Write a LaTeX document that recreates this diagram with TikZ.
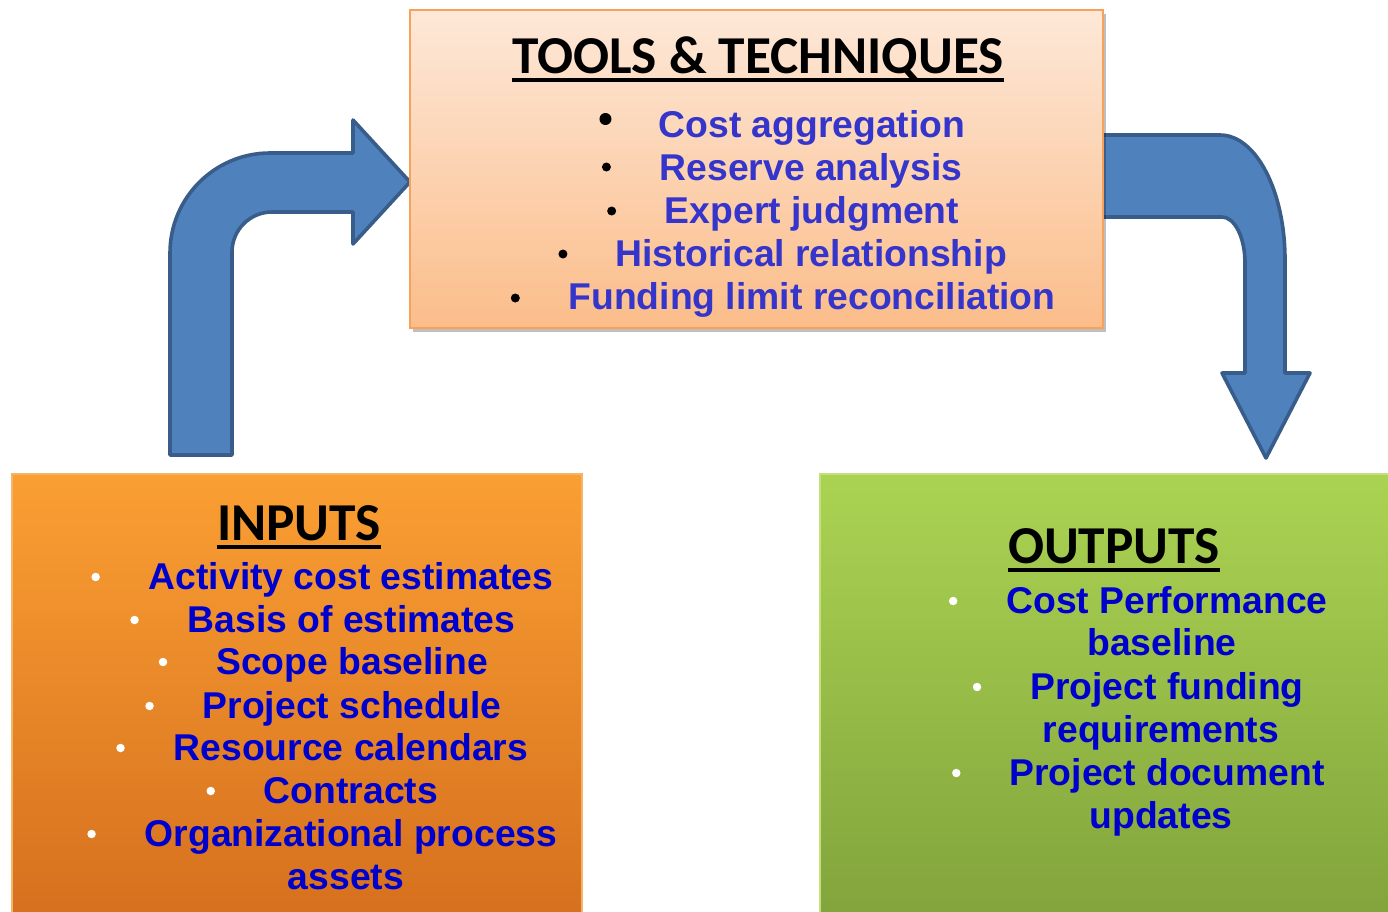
\documentclass[tikz,border=0pt]{standalone}
\usepackage{fontspec}
\setmainfont{Liberation Sans}
\newfontfamily\titlefont{Carlito}
\usetikzlibrary{shadows,calc}
\definecolor{arrowfill}{HTML}{4F81BD}
\definecolor{arrowline}{HTML}{385D8A}
\definecolor{ttblue}{HTML}{3535CC}
\definecolor{ioblue}{HTML}{0000CC}
\definecolor{tttop}{HTML}{FDE8D8}
\definecolor{ttbot}{HTML}{FBBD8A}
\definecolor{ttborder}{HTML}{F8A15A}
\definecolor{intop}{HTML}{FA9F33}
\definecolor{inbot}{HTML}{D6701E}
\definecolor{inborder}{HTML}{F3B56A}
\definecolor{outtop}{HTML}{ABD352}
\definecolor{outbot}{HTML}{82A43C}
\definecolor{outborder}{HTML}{C2E07E}
\tikzset{
  bluearrow/.style={fill=arrowfill, draw=arrowline, line width=3.6pt, line join=round},
  ttbox/.style={draw=ttborder, line width=2pt, top color=tttop, bottom color=ttbot,
    drop shadow={shadow xshift=3pt, shadow yshift=-4pt, opacity=0.25, fill=black}},
  inbox/.style={draw=inborder, line width=2.5pt, top color=intop, bottom color=inbot},
  outbox/.style={draw=outborder, line width=2.5pt, top color=outtop, bottom color=outbot},
  boxtitle/.style={font=\titlefont\bfseries\fontsize{53.3}{60}\selectfont, anchor=base, inner sep=0pt, text=black},
  ttitem/.style={font=\bfseries\fontsize{37.3}{44}\selectfont, text=ttblue, anchor=base, inner sep=0pt},
  ioitem/.style={font=\bfseries\fontsize{37.3}{44}\selectfont, text=ioblue, anchor=base, inner sep=0pt},
  blackbul/.style={circle, fill=black, inner sep=0pt, minimum size=9pt},
  whitebul/.style={circle, fill=white, inner sep=0pt, minimum size=8.5pt},
  uline/.style={line width=4pt, black}
}
\begin{document}
\begin{tikzpicture}[x=1pt,y=1pt]
\useasboundingbox (0,0) rectangle (1388,-911);

% arrows (drawn first so the boxes overlap them)
\draw[bluearrow] (170,-455) -- (170,-253)
  arc[start angle=180, end angle=90, radius=100] -- (353,-153)
  -- (353,-120) -- (410,-182) -- (353,-244) -- (353,-212) -- (272,-212)
  arc[start angle=90, end angle=180, radius=40] -- (232,-455) -- cycle;
\draw[bluearrow] (1100,-135) -- (1220,-135)
  arc[start angle=90, end angle=0, x radius=65, y radius=125] -- (1285,-373)
  -- (1310,-373) -- (1266,-458) -- (1222,-373) -- (1245,-373) -- (1245,-263)
  arc[start angle=0, end angle=90, x radius=23, y radius=46] -- (1100,-217) -- cycle;

% boxes
\node[ttbox, minimum width=693pt, minimum height=318pt, inner sep=0pt] (toolsbox) at (756.5,-169) {};
\node[inbox, minimum width=570pt, minimum height=441pt, inner sep=0pt] (inputsbox) at (297,-694.5) {};
\node[outbox, minimum width=572pt, minimum height=441pt, inner sep=0pt] (outputsbox) at (1106,-694.5) {};

% tools & techniques
\node[boxtitle] (tttitle) at (758,-73) {TOOLS \& TECHNIQUES};
\draw[uline] ([yshift=-7pt]tttitle.base west) -- ([yshift=-7pt]tttitle.base east);
\node[ttitem] (c1) at (812,-137) {Cost aggregation};
\node[ttitem] (c2) at (811,-180) {Reserve analysis};
\node[ttitem] (c3) at (812,-223) {Expert judgment};
\node[ttitem] (c4) at (811,-266) {Historical relationship};
\node[ttitem] (c5) at (812,-309) {Funding limit reconciliation};
\node[blackbul, minimum size=12pt] (cb1) at ([xshift=-53pt,yshift=18pt]c1.base west) {};
\node[blackbul] (cb2) at ([xshift=-53pt,yshift=13pt]c2.base west) {};
\node[blackbul] (cb3) at ([xshift=-53pt,yshift=12pt]c3.base west) {};
\node[blackbul] (cb4) at ([xshift=-52pt,yshift=12pt]c4.base west) {};
\node[blackbul] (cb5) at ([xshift=-53pt,yshift=11pt]c5.base west) {};

% inputs
\node[boxtitle] (intitle) at (299,-540) {INPUTS};
\draw[uline] ([yshift=-6.5pt]intitle.base west) -- ([yshift=-6.5pt]intitle.base east);
\node[ioitem] (i1) at (351,-589) {Activity cost estimates};
\node[ioitem] (i2) at (351.5,-632) {Basis of estimates};
\node[ioitem] (i3) at (352,-674) {Scope baseline};
\node[ioitem] (i4) at (352,-718) {Project schedule};
\node[ioitem] (i5) at (351,-760) {Resource calendars};
\node[ioitem] (i6) at (351,-803) {Contracts};
\node[ioitem] (i7) at (351,-846) {Organizational process};
\node[ioitem] (i8) at (346,-889) {assets};
\foreach \n in {1,...,7}{
  \node[whitebul] (ib\n) at ([xshift=-53pt,yshift=12pt]i\n.base west) {};
}

% outputs
\node[boxtitle] (outtitle) at (1114,-563) {OUTPUTS};
\draw[uline] ([yshift=-6.5pt]outtitle.base west) -- ([yshift=-6.5pt]outtitle.base east);
\node[ioitem] (o1) at (1167,-613) {Cost Performance};
\node[ioitem] (o2) at (1162,-655) {baseline};
\node[ioitem] (o3) at (1167,-699) {Project funding};
\node[ioitem] (o4) at (1161,-742) {requirements};
\node[ioitem] (o5) at (1167,-785) {Project document};
\node[ioitem] (o6) at (1161,-828) {updates};
\foreach \n in {1,3,5}{
  \node[whitebul] (ob\n) at ([xshift=-53pt,yshift=12pt]o\n.base west) {};
}
\end{tikzpicture}
\end{document}
